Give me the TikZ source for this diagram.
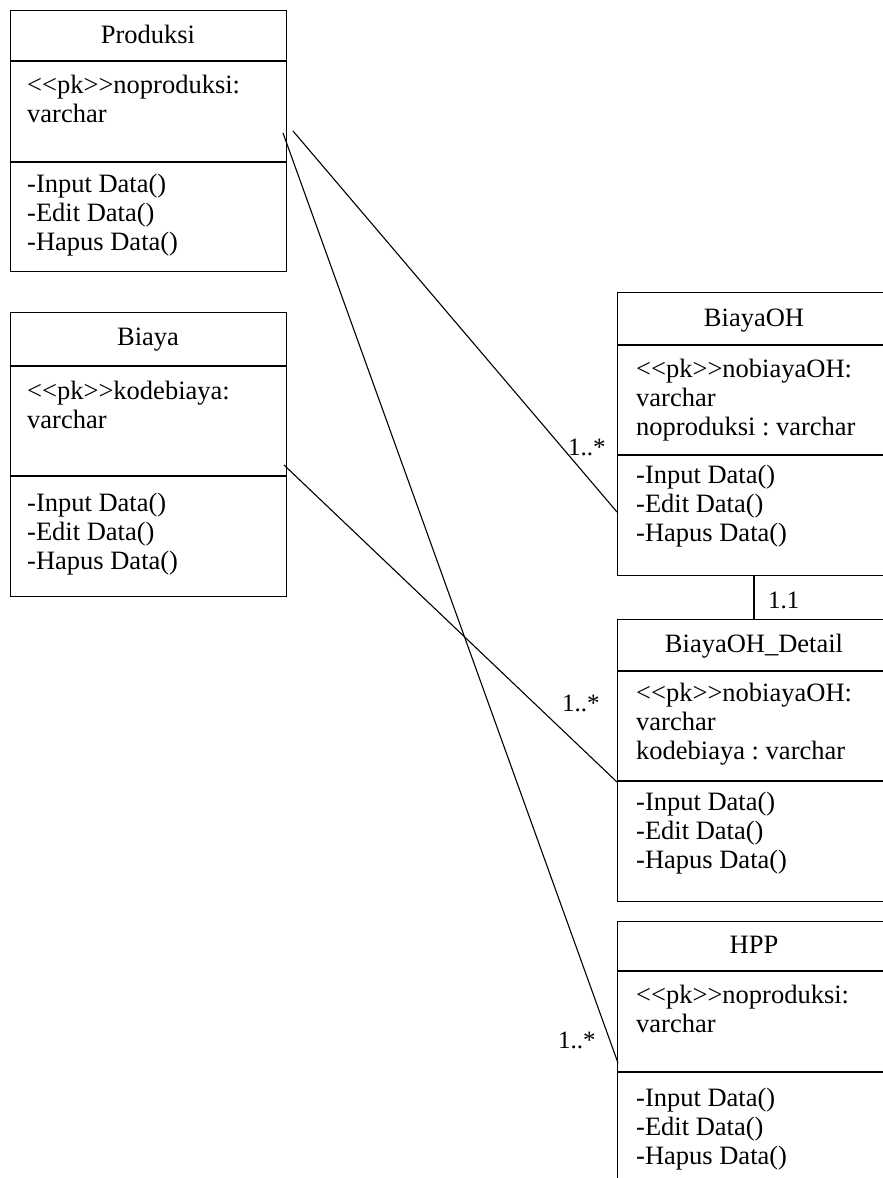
\documentclass[tikz,border=0pt]{standalone}
\usepackage{fontspec}
\setmainfont{Liberation Serif}
\newcommand{\lt}{<\kern0pt<}
\newcommand{\gt}{>\kern0pt>}
\begin{document}
\frenchspacing
\begin{tikzpicture}[x=1pt,y=-1pt,
  classbox/.style={draw=black,line width=1.3pt,inner sep=0pt,anchor=north west,minimum width=276pt},
  divider/.style={line width=1.3pt},
  conn/.style={line width=1.1pt},
  titletext/.style={anchor=base,inner sep=0pt,font=\fontsize{26.5}{29}\selectfont},
  bodytext/.style={anchor=north west,inner sep=0pt,align=left,font=\fontsize{26.5}{29}\selectfont},
  mult/.style={anchor=base west,inner sep=0pt,font=\fontsize{25}{29}\selectfont}]
\useasboundingbox (0,0) rectangle (883,1178);
\clip (0,0) rectangle (883,1178);

% ---- Produksi
\node[classbox,minimum height=261pt] (produksi) at (10,10) {};
\draw[divider] (10,61) -- (286,61);
\draw[divider] (10,162) -- (286,162);
\node[titletext] (produksi-t) at (148,43) {Produksi};
\node[bodytext] (produksi-a) at (27,75) {\lt pk\gt noproduksi:\\varchar};
\node[bodytext] (produksi-m) at (27,174) {-Input Data()\\-Edit Data()\\-Hapus Data()};

% ---- Biaya
\node[classbox,minimum height=284pt] (biaya) at (10,312) {};
\draw[divider] (10,366) -- (286,366);
\draw[divider] (10,476) -- (286,476);
\node[titletext] (biaya-t) at (148,345) {Biaya};
\node[bodytext] (biaya-a) at (27,381) {\lt pk\gt kodebiaya:\\varchar};
\node[bodytext] (biaya-m) at (27,493) {-Input Data()\\-Edit Data()\\-Hapus Data()};

% ---- BiayaOH
\node[classbox,minimum height=283pt] (biayaoh) at (617,292) {};
\draw[divider] (617,345) -- (893,345);
\draw[divider] (617,455) -- (893,455);
\node[titletext] (biayaoh-t) at (754,326) {BiayaOH};
\node[bodytext] (biayaoh-a) at (636,359) {\lt pk\gt nobiayaOH:\\varchar\\noproduksi : varchar};
\node[bodytext] (biayaoh-m) at (636,465) {-Input Data()\\-Edit Data()\\-Hapus Data()};

% ---- BiayaOH_Detail
\node[classbox,minimum height=282pt] (detail) at (617,619) {};
\draw[divider] (617,671) -- (893,671);
\draw[divider] (617,781) -- (893,781);
\node[titletext] (detail-t) at (754,652) {BiayaOH\_Detail};
\node[bodytext] (detail-a) at (636,683) {\lt pk\gt nobiayaOH:\\varchar\\kodebiaya : varchar};
\node[bodytext] (detail-m) at (636,792) {-Input Data()\\-Edit Data()\\-Hapus Data()};

% ---- HPP
\node[classbox,minimum height=300pt] (hpp) at (617,921) {};
\draw[divider] (617,971) -- (893,971);
\draw[divider] (617,1072) -- (893,1072);
\node[titletext] (hpp-t) at (754,953) {HPP};
\node[bodytext] (hpp-a) at (636,985) {\lt pk\gt noproduksi:\\varchar};
\node[bodytext] (hpp-m) at (636,1088) {-Input Data()\\-Edit Data()\\-Hapus Data()};

% ---- connector ends
\coordinate (c1a) at (293,131);
\coordinate (c1b) at (617,512);
\coordinate (c2a) at (283,133);
\coordinate (c2b) at (618,1063);
\coordinate (c3a) at (284,465);
\coordinate (c3b) at (617,782);
\coordinate (c4a) at (754,575);
\coordinate (c4b) at (754,619);

\draw[conn] (c1a) -- (c1b);
\draw[conn] (c2a) -- (c2b);
\draw[conn] (c3a) -- (c3b);
\draw[conn] (c4a) -- (c4b);

% ---- multiplicities
\node[mult] (m1) at (568,455) {1..*};
\node[mult] (m2) at (562,711) {1..*};
\node[mult] (m3) at (558,1048) {1..*};
\node[mult] (m4) at (768,608) {1.1};
\end{tikzpicture}
\end{document}
